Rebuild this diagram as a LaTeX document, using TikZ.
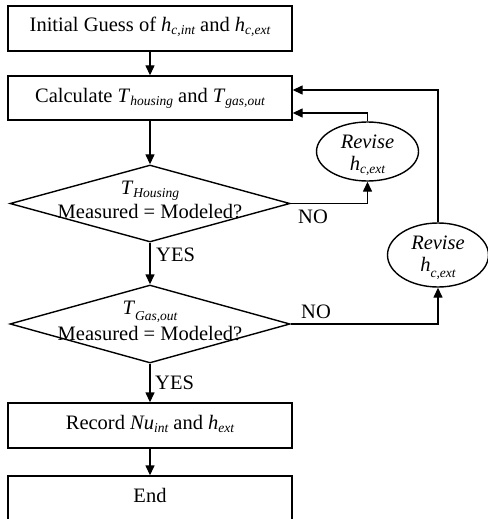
\documentclass[tikz,border=0pt]{standalone}
\usepackage{fontspec}
\setmainfont{Liberation Serif}
\usetikzlibrary{shapes.geometric,arrows.meta}
\newcommand{\sbi}[1]{\raisebox{-3pt}{\fontsize{13.5}{15}\selectfont\itshape #1}}
\newcommand{\sbl}[1]{\raisebox{-6pt}{\fontsize{13.5}{15}\selectfont\itshape #1}}
\tikzset{
  stepbox/.style={draw, line width=1.4pt, minimum width=284pt, minimum height=45pt, inner sep=0pt},
  decbox/.style={draw, diamond, line width=1.4pt, minimum width=280pt, inner sep=0pt},
  revbox/.style={draw, ellipse, line width=1.4pt, inner sep=0pt},
  txt/.style={inner sep=0pt, font=\fontsize{20.5}{24}\selectfont},
  conn/.style={line width=1.4pt, -{Triangle[length=10pt,width=9pt]}},
}
\begin{document}
\begin{tikzpicture}[x=1pt,y=-1pt]
\useasboundingbox (0,0) rectangle (487,519);
\node[stepbox] (b1) at (150,28.5) {};
\node[txt] (t1) at (150,27) {Initial Guess of \textit{h}\sbi{c,int} and \textit{h}\sbi{c,ext}};
\node[stepbox, minimum height=44pt] (b2) at (150,98) {};
\node[txt] (t2) at (150,98) {Calculate \textit{T}\sbi{housing} and \textit{T}\sbi{gas,out}};
\node[decbox, minimum height=77pt] (d1) at (150,203.5) {};
\node[txt] (t3a) at (150,191) {\textit{T}\sbi{Housing}};
\node[txt] (t3b) at (150,212) {Measured = Modeled?};
\node[decbox, minimum height=78pt] (d2) at (150,324) {};
\node[txt] (t4a) at (150,312) {\textit{T}\sbl{Gas,out}};
\node[txt] (t4b) at (150,334) {Measured = Modeled?};
\node[stepbox] (b3) at (150,425.5) {};
\node[txt] (t5) at (150,424) {Record \textit{Nu}\sbi{int} and \textit{h}\sbi{ext}};
\node[stepbox, minimum height=50pt] (b4) at (150,501) {};
\node[txt] (t6) at (150,495) {End};
\node[revbox, minimum width=102pt, minimum height=59pt] (e1) at (367.5,151.5) {};
\node[txt] (t7a) at (367.5,142) {\textit{Revise}};
\node[txt] (t7b) at (367.5,166) {\textit{h}\sbi{c,ext}};
\node[revbox, minimum width=101pt, minimum height=64pt] (e2) at (438,255) {};
\node[txt] (t8a) at (438,243) {\textit{Revise}};
\node[txt] (t8b) at (438,268) {\textit{h}\sbl{c,ext}};
\draw[conn] (b1) -- (b2);
\draw[conn] (b2) -- (d1);
\draw[conn] (d1.east) -| (e1.south);
\draw[conn] (e1.north) |- ([yshift=-15pt]b2.east);
\draw[conn] (d1.south) -- (d2.north);
\draw[conn] (d2.east) -| (e2.south);
\draw[conn] (e2.north) |- ([yshift=8pt]b2.east);
\draw[conn] (d2.south) -- (b3.north);
\draw[conn] (b3) -- (b4);
\node[txt] (no1) at (313,217) {NO};
\node[txt] (no2) at (316,312) {NO};
\node[txt, anchor=west] (yes1) at (156,255) {YES};
\node[txt, anchor=west] (yes2) at (155,383) {YES};
\end{tikzpicture}
\end{document}
